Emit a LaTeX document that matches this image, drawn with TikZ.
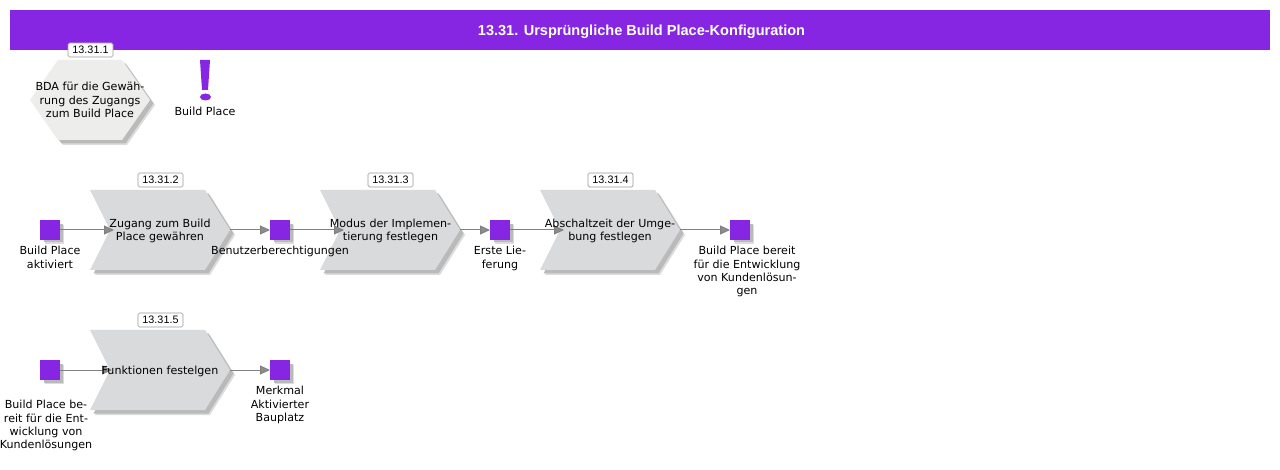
\documentclass[tikz,border=0pt]{standalone}
\usepackage{fontspec}
\setmainfont{DejaVu Sans}
\newfontfamily\labfont{Liberation Sans}
\usetikzlibrary{arrows.meta}
\definecolor{purp}{HTML}{8626E2}
\definecolor{chevgray}{HTML}{D9DADC}
\definecolor{hexgray}{HTML}{EDEDEB}
\definecolor{shadowgray}{HTML}{BABABA}
\definecolor{shadowsoft}{HTML}{DCDCDC}
\definecolor{linegray}{HTML}{808080}
\tikzset{
  x=1pt,y=-1pt,
  lbl/.style={align=center,inner sep=0pt,font=\fontsize{11.1}{13.4}\selectfont,text=black},
  tagbox/.style={draw=black!40,fill=white,rounded corners=1.5pt,line width=0.7pt,minimum width=45,minimum height=14,inner sep=0pt,font=\labfont\fontsize{10.8}{12}\selectfont},
  evt/.style={fill=purp,minimum size=20,inner sep=0pt,outer sep=0pt},
  conn/.style={draw=linegray,line width=1pt,-{Triangle[length=10pt,width=9pt,fill=linegray!90]}},
  chevtxt/.style={lbl,minimum width=140,minimum height=80,outer sep=0pt},
}
\newcommand{\chevshape}[2]{%
  \fill[shadowsoft] (#1+5,#2+5) -- (#1+120,#2+5) -- (#1+145,#2+45) -- (#1+120,#2+85) -- (#1+5,#2+85) -- (#1+25,#2+45) -- cycle;
  \fill[shadowgray] (#1+3.5,#2+3.5) -- (#1+118.5,#2+3.5) -- (#1+143.5,#2+43.5) -- (#1+118.5,#2+83.5) -- (#1+3.5,#2+83.5) -- (#1+23.5,#2+43.5) -- cycle;
  \fill[chevgray] (#1,#2) -- (#1+115,#2) -- (#1+140,#2+40) -- (#1+115,#2+80) -- (#1,#2+80) -- (#1+20,#2+40) -- cycle;
}
\newcommand{\evtshadow}[2]{%
  \fill[shadowsoft] (#1-5,#2-5) rectangle (#1+14,#2+14);
  \fill[shadowgray] (#1-6,#2-6) rectangle (#1+12.5,#2+12.5);}
\begin{document}
\begin{tikzpicture}
\useasboundingbox (0,0) rectangle (1280,470);
\fill[white] (0,0) rectangle (1280,470);
% title
\node[fill=purp,minimum width=1260,minimum height=40,inner sep=0pt] (title) at (640,30) {};
\node[inner sep=0pt,text=white,font=\labfont\bfseries\fontsize{14.55}{16}\selectfont] (titletext) at (641.5,31.5) {13.31. Ursprüngliche Build Place-Konfiguration};
% hexagon
\fill[shadowsoft] (63,65) -- (127,65) -- (155,105) -- (127,145) -- (63,145) -- (35,105) -- cycle;
\fill[shadowgray] (61.5,63.5) -- (125.5,63.5) -- (153.5,103.5) -- (125.5,143.5) -- (61.5,143.5) -- (33.5,103.5) -- cycle;
\fill[hexgray] (58,60) -- (122,60) -- (150,100) -- (122,140) -- (58,140) -- (30,100) -- cycle;
\node[lbl] (h1) at (90,100) {BDA für die Gewäh-\\rung des Zugangs\\zum Build Place};
\node[tagbox] (t1) at (90.5,50) {13.31.1};
% exclamation
\fill[purp] (200,60) -- (210,60) -- (208,90) -- (202,90) -- cycle;
\fill[purp] (205.5,97) ellipse (5.5 and 3.5);
\node[lbl] (ex) at (205,111.5) {Build Place};
% chevrons
\chevshape{90}{190}
\chevshape{320}{190}
\chevshape{540}{190}
\chevshape{90}{330}
% events
\evtshadow{50}{230}\evtshadow{280}{230}\evtshadow{500}{230}\evtshadow{740}{230}\evtshadow{50}{370}\evtshadow{280}{370}
\node[evt] (s1) at (50,230) {};
\node[evt] (s2) at (280,230) {};
\node[evt] (s3) at (500,230) {};
\node[evt] (s4) at (740,230) {};
\node[evt] (s5) at (50,370) {};
\node[evt] (s6) at (280,370) {};
\coordinate (c2in) at (114,230);
\coordinate (c3in) at (344,230);
\coordinate (c4in) at (564,230);
\coordinate (c5in) at (112,370);
\node[chevtxt] (c2) at (160,230) {};
\node[chevtxt] (c3) at (390,230) {};
\node[chevtxt] (c4) at (610,230) {};
\node[chevtxt] (c5) at (160,370) {};
\draw[conn] (s1.east) -- (c2in);
\draw[conn] (c2.east) -- (s2.west);
\draw[conn] (s2.east) -- (c3in);
\draw[conn] (c3.east) -- (s3.west);
\draw[conn] (s3.east) -- (c4in);
\draw[conn] (c4.east) -- (s4.west);
\draw[conn] (s5.east) -- (c5in);
\draw[conn] (c5.east) -- (s6.west);
% chevron texts
\node[lbl] (c2t) at (160,231) {Zugang zum Build\\Place gewähren};
\node[lbl] (c3t) at (390.5,231) {Modus der Implemen-\\tierung festlegen};
\node[lbl] (c4t) at (610,231) {Abschaltzeit der Umge-\\bung festlegen};
\node[lbl] (c5t) at (160,371) {Funktionen festelgen};
% tags
\node[tagbox] (t2) at (160.5,180) {13.31.2};
\node[tagbox] (t3) at (390.5,180) {13.31.3};
\node[tagbox] (t4) at (610.5,180) {13.31.4};
\node[tagbox] (t5) at (160.5,320) {13.31.5};
% event labels
\node[lbl,anchor=north] (l1) at (50,246) {Build Place\\aktiviert};
\node[lbl,anchor=north] (l2) at (280,246) {Benutzerberechtigungen};
\node[lbl,anchor=north] (l3) at (500,246) {Erste Lie-\\ferung};
\node[lbl,anchor=north] (l4) at (747,246) {Build Place bereit\\für die Entwicklung\\von Kundenlösun-\\gen};
\node[lbl,anchor=north] (l5) at (46,400) {Build Place be-\\reit für die Ent-\\wicklung von\\Kundenlösungen};
\node[lbl,anchor=north] (l6) at (280,386) {Merkmal\\Aktivierter\\Bauplatz};
\end{tikzpicture}
\end{document}
